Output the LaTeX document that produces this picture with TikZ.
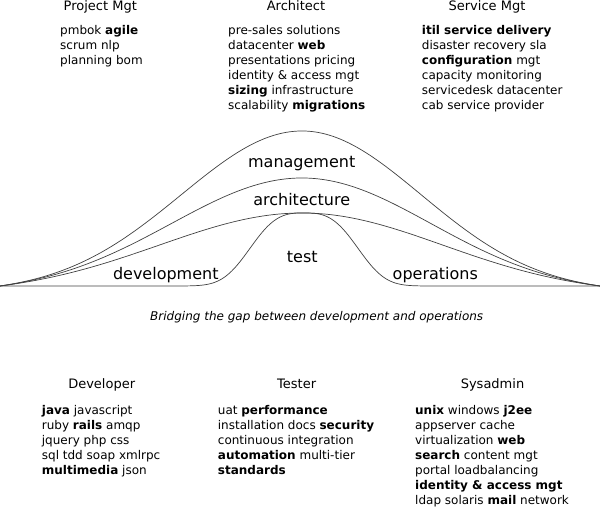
\documentclass[tikz,border=0pt]{standalone}
\usepackage{fontspec}
\setmainfont{DejaVu Sans}
\newcommand{\wordlist}[1]{\begin{tabular}[t]{@{}l@{}}#1\end{tabular}}
\begin{document}
\begin{tikzpicture}[x=1pt,y=-1pt,
  head/.style={anchor=base, inner sep=0pt, font=\fontsize{13}{15}\selectfont},
  lst/.style={anchor=base west, inner sep=0pt, font=\fontsize{12}{15}\selectfont},
  lbl/.style={anchor=base, inner sep=0pt, font=\fontsize{16}{19}\selectfont},
  capt/.style={anchor=base, inner sep=0pt, font=\fontsize{12}{15}\selectfont\itshape},
  curve/.style={line width=0.7pt, draw=black!75, line join=round}]
\useasboundingbox (0,0) rectangle (600,508);

% curves
\draw[curve] plot[domain=-3:3, samples=151, variable=\u]
  ({302+100*\u*(\u<0?1.00667:0.99333)}, {286-155*(exp(-\u*\u/2.88)-exp(-9/2.88))/(1-exp(-9/2.88))});
\draw[curve] plot[domain=-3:3, samples=151, variable=\u]
  ({302+100*\u*(\u<0?1.00667:0.99333)}, {286-108*(exp(-\u*\u/3.38)-exp(-9/3.38))/(1-exp(-9/3.38))});
\draw[curve] plot[domain=-3:3, samples=151, variable=\u]
  ({302+100*\u*(\u<0?1.00667:0.99333)}, {286-73*(exp(-\u*\u/4.03)-exp(-9/4.03))/(1-exp(-9/4.03))});
\draw[curve] (0,286) -- (184,286) -- plot[domain=-1.2:1.2, samples=121, variable=\u]
  ({304+100*\u}, {286-73*exp(-abs(\u)*\u*\u/0.2383)}) -- (600,286);

% curve labels
\node[lbl] (mgmt) at (301.7,167.5) {management};
\node[lbl] (arch) at (301.7,205.5) {architecture};
\node[lbl] (test) at (302.3,262) {test};
\node[lbl] (dev) at (165.8,279.5) {development};
\node[lbl] (ops) at (435.3,279.5) {operations};
\node[capt] (cap) at (316.7,320.5) {Bridging the gap between development and operations};

% top groups
\node[head] (pmh) at (100.3,11) {Project Mgt};
\node[head] (arh) at (296,11) {Architect};
\node[head] (smh) at (487,11) {Service Mgt};
\node[lst] (pml) at (60,34.5) {\wordlist{pmbok \textbf{agile}\\ scrum nlp\\ planning bom}};
\node[lst] (arl) at (228,34.5) {\wordlist{pre-sales solutions\\ datacenter \textbf{web}\\ presentations pricing\\ identity \& access mgt\\ \textbf{sizing} infrastructure\\ scalability \textbf{migrations}}};
\node[lst] (sml) at (421.7,34.5) {\wordlist{\textbf{itil service delivery}\\ disaster recovery sla\\ \textbf{configuration} mgt\\ capacity monitoring\\ servicedesk datacenter\\ cab service provider}};

% bottom groups
\node[head] (dvh) at (101.7,388.3) {Developer};
\node[head] (tsh) at (296.7,388.3) {Tester};
\node[head] (sah) at (492.5,388.3) {Sysadmin};
\node[lst] (dvl) at (41.7,414.5) {\wordlist{\textbf{java} javascript\\ ruby \textbf{rails} amqp\\ jquery php css\\ sql tdd soap xmlrpc\\ \textbf{multimedia} json}};
\node[lst] (tsl) at (217.7,414.5) {\wordlist{uat \textbf{performance}\\ installation docs \textbf{security}\\ continuous integration\\ \textbf{automation} multi-tier\\ \textbf{standards}}};
\node[lst] (sal) at (415,414.5) {\wordlist{\textbf{unix} windows \textbf{j2ee}\\ appserver cache\\ virtualization \textbf{web}\\ \textbf{search} content mgt\\ portal loadbalancing\\ \textbf{identity \& access mgt}\\ ldap solaris \textbf{mail} network}};
\end{tikzpicture}
\end{document}
